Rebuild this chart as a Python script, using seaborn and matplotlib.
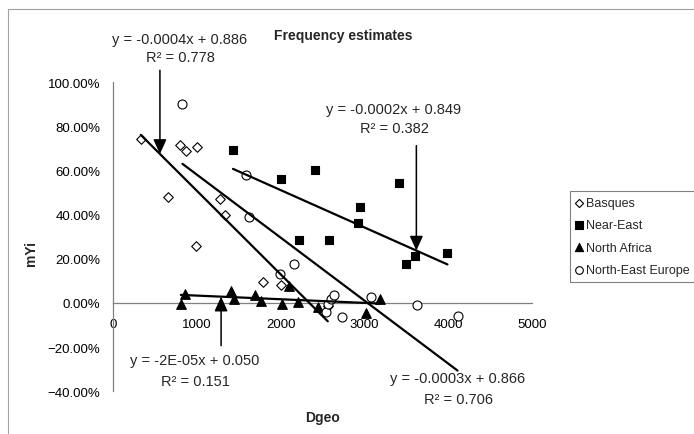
import numpy as np
import pandas as pd
import matplotlib
matplotlib.use("Agg")
import matplotlib.pyplot as plt
from matplotlib.ticker import PercentFormatter, FixedLocator
from matplotlib.patches import Rectangle
import seaborn as sns

# ---------------- data ----------------
series_names = ["Basques", "Near-East", "North Africa", "North-East Europe"]

basques_x = [331, 662, 801, 869, 985, 997, 1280, 1336, 1786, 2006, 2563]
basques_y = [0.740, 0.479, 0.716, 0.688, 0.257, 0.707, 0.469, 0.398, 0.096, 0.083, -0.015]

neareast_x = [1432, 2010, 2217, 2408, 2576, 2922, 2951, 3409, 3501, 3600, 3991]
neareast_y = [0.694, 0.562, 0.286, 0.600, 0.286, 0.361, 0.434, 0.544, 0.178, 0.212, 0.225]

nafrica_x = [810, 861, 1405, 1447, 1697, 1770, 2013, 2105, 2205, 2444, 3023, 3182]
nafrica_y = [-0.005, 0.040, 0.053, 0.016, 0.038, 0.008, -0.004, 0.076, 0.005, -0.018, -0.044, 0.016]

neeurope_x = [829, 1587, 1623, 1998, 2165, 2544, 2570, 2596, 2635, 2731, 3082, 3632, 4111]
neeurope_y = [0.902, 0.577, 0.390, 0.132, 0.178, -0.040, -0.005, 0.018, 0.034, -0.064, 0.027, -0.010, -0.060]

# trendline coefficients (linear fits) and their printed labels
trend_slope = [-0.000378, -0.000169, -0.0000165, -0.000285]
trend_intercept = [0.886, 0.849, 0.050, 0.866]
trend_eq_labels = ["y = -0.0004x + 0.886", "y = -0.0002x + 0.849",
                   "y = -2E-05x + 0.050", "y = -0.0003x + 0.866"]
trend_r2_labels = ["R² = 0.778", "R² = 0.382", "R² = 0.151", "R² = 0.706"]
arrow_x = [560, 3620, 1290, None]

x_ticks = [0, 1000, 2000, 3000, 4000, 5000]
y_ticks = [-0.4, -0.2, 0.0, 0.2, 0.4, 0.6, 0.8, 1.0]

xs_all = [basques_x, neareast_x, nafrica_x, neeurope_x]
ys_all = [basques_y, neareast_y, nafrica_y, neeurope_y]

frames = []
for name, xs, ys in zip(series_names, xs_all, ys_all):
    frames.append(pd.DataFrame({"Dgeo": xs, "mYi": ys, "Series": name}))
df = pd.concat(frames, ignore_index=True)

# ---------------- style ----------------
sns.set_style("white")
plt.rcParams["font.family"] = ["Liberation Sans", "DejaVu Sans"]

W, H = 694, 435
fig = plt.figure(figsize=(W / 100, H / 100), dpi=100)
fig.patch.set_facecolor("white")

# chart border (Excel chart area)
fig.patches.append(Rectangle((8 / W, -0.05), 1.2, 1 - 10 / H + 0.05,
                             transform=fig.transFigure, fill=False,
                             edgecolor="#a0a0a0", linewidth=0.8))

ax_left, ax_right = 113 / W, 532 / W
ax_top, ax_bottom = 1 - 83 / H, 1 - 392.4 / H
ax = fig.add_axes([ax_left, ax_bottom, ax_right - ax_left, ax_top - ax_bottom])
ax.set_facecolor("none")

styles = {
    "Basques": dict(marker="D", s=24, color="white"),
    "Near-East": dict(marker="s", s=40, color="black"),
    "North Africa": dict(marker="^", s=48, color="black"),
    "North-East Europe": dict(marker="o", s=42, color="white"),
}

for name in series_names:
    sub = df[df["Series"] == name]
    st = styles[name]
    sns.scatterplot(data=sub, x="Dgeo", y="mYi", marker=st["marker"], s=st["s"],
                    color=st["color"], edgecolor="black", linewidth=0.8,
                    label=name, ax=ax, zorder=3, clip_on=False)

# trendlines
for i, name in enumerate(series_names):
    xs = xs_all[i]
    tx = np.array([min(xs), max(xs)], dtype=float)
    ty = trend_slope[i] * tx + trend_intercept[i]
    sns.lineplot(x=tx, y=ty, color="black", linewidth=1.6, ax=ax,
                 legend=False, zorder=4, sort=False)

ax.set_xlim(0, 5000)
ax.set_ylim(-0.4, 1.0)
ax.xaxis.set_major_locator(FixedLocator(x_ticks))
ax.yaxis.set_major_locator(FixedLocator(y_ticks))
ax.yaxis.set_major_formatter(PercentFormatter(xmax=1, decimals=2))
ax.set_xticklabels([str(t) for t in x_ticks])

for s in ["top", "right"]:
    ax.spines[s].set_visible(False)
ax.spines["bottom"].set_position(("data", 0))
ax.spines["left"].set_color("#808080")
ax.spines["bottom"].set_color("#808080")
ax.spines["left"].set_linewidth(0.9)
ax.spines["bottom"].set_linewidth(0.9)
ax.tick_params(axis="both", which="major", direction="out", length=4,
               width=0.9, color="#808080", labelsize=9.5, labelcolor="black")
ax.tick_params(axis="x", pad=7)
ax.tick_params(axis="y", pad=5)
ax.set_xlabel("")
ax.set_ylabel("")

# annotations
text_pos = [((800, 1.195), (800, 1.113)),
            ((3353, 0.880), (3353, 0.790)),
            ((979, -0.258), (979, -0.353)),
            ((4117, -0.339), (4117, -0.434))]
arrow_start = [1.053, 0.712, -0.193, None]
for i in range(4):
    (ex, ey), (rx, ry) = text_pos[i]
    ax.text(ex, ey, trend_eq_labels[i], ha="center", va="center", fontsize=10.5,
            clip_on=False)
    ax.text(rx, ry, trend_r2_labels[i], ha="center", va="center", fontsize=10.5,
            clip_on=False)
    if arrow_x[i] is not None:
        tx = arrow_x[i]
        ty = trend_slope[i] * tx + trend_intercept[i]
        ax.annotate("", xy=(tx, ty), xytext=(tx, arrow_start[i]),
                    arrowprops=dict(arrowstyle="-|>,head_length=0.55,head_width=0.25",
                                    mutation_scale=16, color="black", lw=1.1,
                                    shrinkA=0, shrinkB=0),
                    annotation_clip=False, zorder=5)

# titles
fig.text(343 / W, 1 - 36 / H, "Frequency estimates", ha="center", va="center",
         fontsize=10, fontweight="bold")
fig.text(323 / W, 1 - 418 / H, "Dgeo", ha="center", va="center",
         fontsize=10, fontweight="bold")
fig.text(31 / W, 1 - 253 / H, "mYi", ha="center", va="center", rotation=90,
         fontsize=10, fontweight="bold")

# legend
leg = ax.legend(loc="upper left", bbox_to_anchor=(570 / W, 1 - 192 / H),
                bbox_transform=fig.transFigure, frameon=True, fancybox=False,
                edgecolor="#808080", fontsize=9, handlelength=0.5,
                handletextpad=0.25, borderpad=0.5, labelspacing=0.82,
                borderaxespad=0, framealpha=1, markerscale=0.85)
leg.get_frame().set_linewidth(0.8)

fig.savefig("out.png", dpi=100, facecolor="white")
